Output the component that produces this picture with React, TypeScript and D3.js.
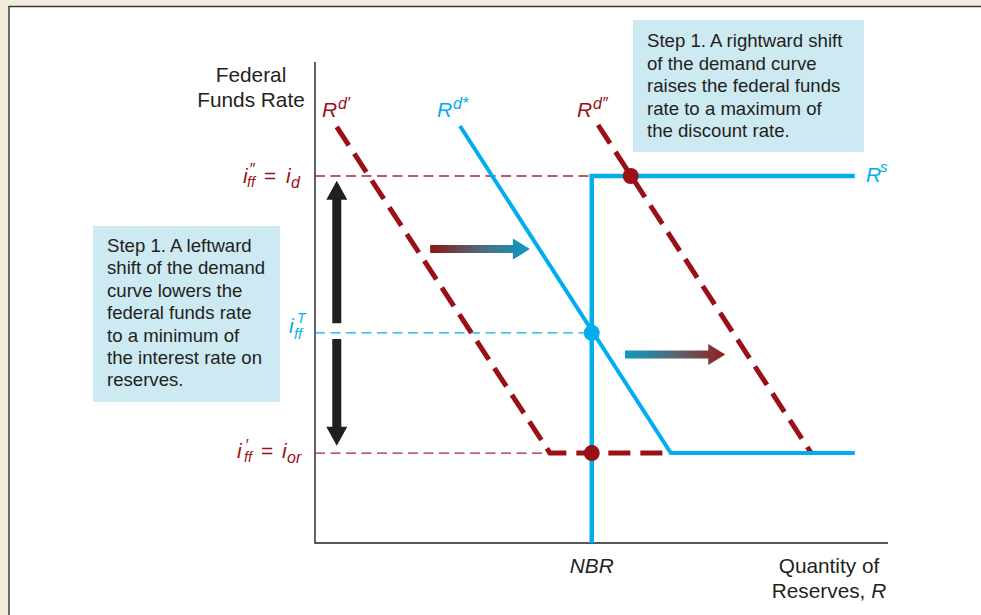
import React from "react";
import * as d3 from "d3";

const W = 981;
const H = 615;
const plot = { left: 315, right: 888, top: 62, bottom: 543 }; // axis box in px

const red = "#9b0f16";
const blue = "#00aeef";
const ink = "#231f20";
const boxFill = "#cde9f2";
const font = "'Liberation Sans', Arial, Helvetica, sans-serif";

// interest rates (vertical)
const iD = 7.63; // discount rate
const iT = 4.37; // target federal funds rate
const iOr = 1.87; // interest rate on reserves
const nbr = 4.83; // nonborrowed reserves

// curves as [reserves, rate]
const rdPrime = [[0.38, 8.65], [4.1, iOr], [6.16, iOr]];
const rdStar = [[2.53, 8.67], [6.21, iOr], [9.42, iOr]];
const rdDouble = [[4.94, 8.69], [8.66, iOr]];
const rsSupply = [[nbr, 0], [nbr, iD], [9.42, iD]];

const dots = [
  { r: 5.51, i: iD, color: red },
  { r: nbr, i: iT, color: blue },
  { r: nbr, i: iOr, color: red },
];

// guide lines from the axis to the curves
const guides = [
  { i: iD, to: nbr, color: "#a8242b" },
  { i: iT, to: nbr, color: blue },
  { i: iOr, to: 4.1, color: "#a8242b" },
];

const shiftArrows = [
  { from: 2.01, to: 3.75, i: 6.11, grad: "gRB" },
  { from: 5.41, to: 7.16, i: 3.92, grad: "gBR" },
];

const bigArrows = [
  { r: 0.38, from: 4.57, to: 7.53 },
  { r: 0.38, from: 4.24, to: 2.02 },
];

const leftStep = [
  "Step 1. A leftward",
  "shift of the demand",
  "curve lowers the",
  "federal funds rate",
  "to a minimum of",
  "the interest rate on",
  "reserves.",
];
const rightStep = [
  "Step 1. A rightward shift",
  "of the demand curve",
  "raises the federal funds",
  "rate to a maximum of",
  "the discount rate.",
];

const x = d3.scaleLinear().domain([0, 10]).range([plot.left, plot.right]);
const y = d3.scaleLinear().domain([0, 10]).range([plot.bottom, plot.top]);
const line = d3
  .line<number[]>()
  .x((d) => x(d[0]))
  .y((d) => y(d[1]));

// horizontal arrow polygon
const hArrow = (x0: number, x1: number, yc: number) => {
  const head = 17;
  const s = 4;
  const h = 10.5;
  const xb = x1 - head;
  return `M${x0},${yc - s}L${xb},${yc - s}L${xb},${yc - h}L${x1},${yc}L${xb},${yc + h}L${xb},${yc + s}L${x0},${yc + s}Z`;
};

// vertical arrow polygon, tip at y1
const vArrow = (xc: number, y0: number, y1: number) => {
  const dir = y1 < y0 ? 1 : -1;
  const head = 19;
  const s = 4.5;
  const h = 10.5;
  const yb = y1 + dir * head;
  return `M${xc - s},${y0}L${xc - s},${yb}L${xc - h},${yb}L${xc},${y1}L${xc + h},${yb}L${xc + s},${yb}L${xc + s},${y0}Z`;
};

const DemandLabel = ({ px, sup, color }: { px: number; sup: string; color: string }) => (
  <text fontFamily={font} fill={color} fontStyle="italic">
    <tspan x={px} y={117} fontSize={21}>R</tspan>
    <tspan x={px + 16} y={109} fontSize={16}>{sup}</tspan>
  </text>
);

export default function App() {
  return (
    <svg
      width={W}
      height={H}
      style={{ position: "absolute", left: 0, top: 0, background: "#f3ecdd" }}
      fontFamily={font}
    >
      <defs>
        <linearGradient id="gRB" x1="0" x2="1" y1="0" y2="0">
          <stop offset="0" stopColor="#8e1515" />
          <stop offset="0.5" stopColor="#4d6b7c" />
          <stop offset="1" stopColor="#0b9bc6" />
        </linearGradient>
        <linearGradient id="gBR" x1="0" x2="1" y1="0" y2="0">
          <stop offset="0" stopColor="#0b9bc6" />
          <stop offset="0.5" stopColor="#5a6673" />
          <stop offset="1" stopColor="#92201a" />
        </linearGradient>
      </defs>

      {/* white panel */}
      <rect x={9} y={7} width={W - 9} height={H - 7} fill="#ffffff" />
      <line x1={8.5} x2={W} y1={6.5} y2={6.5} stroke="#3a3a3a" strokeWidth={1.6} />
      <line x1={9} x2={9} y1={6} y2={H} stroke="#4a4a4a" strokeWidth={1.6} />

      {/* step boxes */}
      <rect x={93} y={226} width={187} height={176} fill={boxFill} />
      <text fontSize={18.6} fill={ink}>
        {leftStep.map((t, k) => (
          <tspan key={k} x={107} y={252 + k * 22.4}>{t}</tspan>
        ))}
      </text>
      <rect x={633} y={20} width={231} height={132} fill={boxFill} />
      <text fontSize={18.6} fill={ink}>
        {rightStep.map((t, k) => (
          <tspan key={k} x={647} y={47 + k * 22.5}>{t}</tspan>
        ))}
      </text>

      {/* axes */}
      <path
        d={`M${plot.left},${plot.top}V${plot.bottom}H${plot.right}`}
        fill="none"
        stroke={ink}
        strokeWidth={1.4}
      />

      {/* guide lines */}
      {guides.map((g, k) => (
        <line
          key={k}
          x1={plot.left}
          x2={x(g.to)}
          y1={y(g.i)}
          y2={y(g.i)}
          stroke={g.color}
          strokeWidth={1.3}
          strokeDasharray="10,5.5"
        />
      ))}

      {/* supply and demand */}
      <path d={line(rsSupply) ?? ""} fill="none" stroke={blue} strokeWidth={4.5} />
      <path d={line(rdDouble) ?? ""} fill="none" stroke={red} strokeWidth={5} strokeDasharray="22,10" />
      <path d={line(rdStar) ?? ""} fill="none" stroke={blue} strokeWidth={4} strokeLinejoin="miter" />
      <path d={line(rdPrime) ?? ""} fill="none" stroke={red} strokeWidth={5} strokeDasharray="22,10" />

      {dots.map((d, k) => (
        <circle key={k} cx={x(d.r)} cy={y(d.i)} r={8} fill={d.color} />
      ))}

      {/* shift arrows */}
      {shiftArrows.map((a, k) => (
        <path key={k} d={hArrow(x(a.from), x(a.to), y(a.i))} fill={`url(#${a.grad})`} />
      ))}
      {bigArrows.map((a, k) => (
        <path key={k} d={vArrow(x(a.r), y(a.from), y(a.to))} fill={ink} />
      ))}

      {/* curve labels */}
      <DemandLabel px={322} sup={"d\u2032"} color={red} />
      <DemandLabel px={437} sup={"d*"} color={blue} />
      <DemandLabel px={577} sup={"d\u2033"} color={red} />
      <text fill={blue} fontStyle="italic">
        <tspan x={866} y={182} fontSize={21}>R</tspan>
        <tspan x={880} y={172} fontSize={15}>s</tspan>
      </text>

      {/* axis titles */}
      <text fontSize={20.8} fill={ink} textAnchor="middle">
        <tspan x={251} y={82}>Federal</tspan>
        <tspan x={251} y={107}>Funds Rate</tspan>
      </text>
      <text x={x(nbr)} y={573} fontSize={20.8} fill={ink} textAnchor="middle" fontStyle="italic">
        NBR
      </text>
      <text fontSize={20.8} fill={ink} textAnchor="middle">
        <tspan x={829} y={573}>Quantity of</tspan>
        <tspan x={829} y={598}>
          Reserves, <tspan fontStyle="italic">R</tspan>
        </tspan>
      </text>

      {/* rate labels: stacked super/subscripts kept in one text each */}
      <text fill={red} fontStyle="italic">
        <tspan x={243} y={183} fontSize={21}>i</tspan>
        <tspan x={247} y={187} fontSize={14.5}>ff</tspan>
        <tspan x={249} y={175} fontSize={16}>{"\u2033"}</tspan>
        <tspan x={264} y={183} fontSize={21} fontStyle="normal">=</tspan>
        <tspan x={286} y={183} fontSize={21}>i</tspan>
        <tspan x={291} y={188} fontSize={16}>d</tspan>
      </text>
      <text fill={blue} fontStyle="italic">
        <tspan x={289} y={333} fontSize={21}>i</tspan>
        <tspan x={294} y={339} fontSize={14.5}>ff</tspan>
        <tspan x={297} y={323} fontSize={14}>T</tspan>
      </text>
      <text fill={red} fontStyle="italic">
        <tspan x={237} y={458} fontSize={21}>i</tspan>
        <tspan x={244} y={462} fontSize={14.5}>ff</tspan>
        <tspan x={245} y={451} fontSize={16}>{"\u2032"}</tspan>
        <tspan x={261} y={458} fontSize={21} fontStyle="normal">=</tspan>
        <tspan x={282} y={458} fontSize={21}>i</tspan>
        <tspan x={287} y={463} fontSize={16}>or</tspan>
      </text>
    </svg>
  );
}
